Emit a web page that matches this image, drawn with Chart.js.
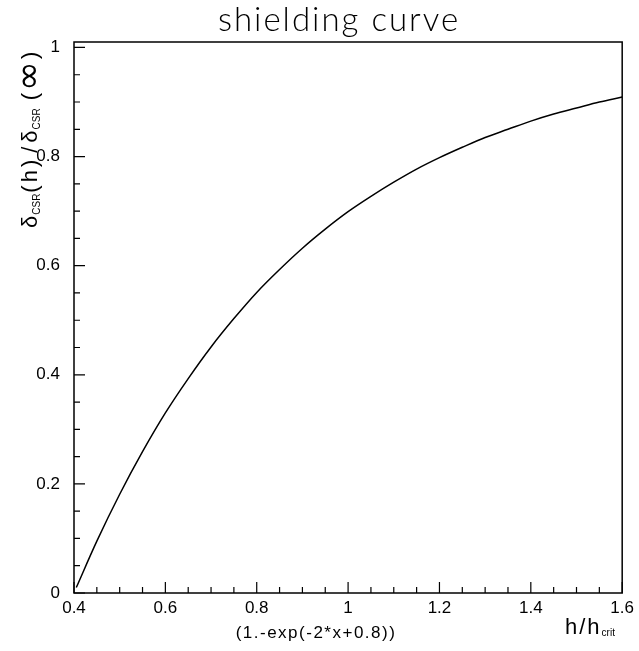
<!DOCTYPE html>
<html>
<head>
<meta charset="utf-8">
<script src="https://cdn.jsdelivr.net/npm/chart.js@4.4.0/dist/chart.umd.min.js"></script>
<style>
html,body{margin:0;padding:0;background:#fff;}
#wrap{width:639px;height:651px;position:relative;}
</style>
</head>
<body>
<div id="wrap"><canvas id="c" width="639" height="651"></canvas></div>
<script>
const xValues = [0.405, 0.45, 0.5, 0.55, 0.6, 0.65, 0.7, 0.75, 0.8, 0.85, 0.9, 0.95, 1.0, 1.05, 1.1, 1.15, 1.2, 1.25, 1.3, 1.35, 1.4, 1.45, 1.5, 1.55, 1.6];
const yValues = [0.01, 0.095, 0.181, 0.259, 0.330, 0.393, 0.451, 0.503, 0.551, 0.593, 0.632, 0.667, 0.699, 0.727, 0.753, 0.777, 0.798, 0.817, 0.835, 0.850, 0.865, 0.878, 0.889, 0.900, 0.909];
const xTicks = [0.4, 0.6, 0.8, 1.0, 1.2, 1.4, 1.6];
const yTicks = [0, 0.2, 0.4, 0.6, 0.8, 1.0];
const titleText = 'shielding curve';
const xLabelText = '(1.-exp(-2*x+0.8))';

const points = xValues.map((x, i) => ({x: x, y: yValues[i]}));
const FONT = '"Liberation Sans", Arial, sans-serif';

const decor = {
  id: 'decor',
  afterDraw(chart) {
    const ctx = chart.ctx;
    const a = chart.chartArea;
    const xs = chart.scales.x, ys = chart.scales.y;
    ctx.save();
    // frame
    ctx.strokeStyle = '#000';
    ctx.lineWidth = 1.5;
    ctx.strokeRect(a.left, a.top, a.right - a.left, a.bottom - a.top);
    // inward ticks
    ctx.lineWidth = 1.2;
    ctx.beginPath();
    for (let i = 0; i <= 24; i++) {
      const v = 0.4 + i * 0.05;
      const px = xs.getPixelForValue(v);
      const len = (i % 4 === 0) ? 11 : 6;
      ctx.moveTo(px, a.bottom); ctx.lineTo(px, a.bottom - len);
    }
    for (let i = 0; i <= 20; i++) {
      const v = i * 0.05;
      const py = ys.getPixelForValue(v);
      const len = (i % 4 === 0) ? 11 : 6;
      ctx.moveTo(a.left, py); ctx.lineTo(a.left + len, py);
    }
    ctx.stroke();
    // title
    ctx.fillStyle = '#000';
    ctx.font = '300 33px Lato, "DejaVu Sans", sans-serif';
    ctx.letterSpacing = '2px';
    ctx.textAlign = 'center';
    ctx.textBaseline = 'alphabetic';
    ctx.fillText(titleText, 339, 31);
    // x labels
    ctx.font = '17px ' + FONT;
    ctx.letterSpacing = '1.5px';
    ctx.fillText(xLabelText, 316, 638);
    ctx.textAlign = 'left';
    ctx.font = '22px ' + FONT;
    ctx.letterSpacing = '2px';
    ctx.fillText('h/h', 565, 634);
    const w = ctx.measureText('h/h').width;
    ctx.font = '10px ' + FONT;
    ctx.letterSpacing = '0px';
    ctx.fillText('crit', 565 + w, 636);
    // y label rotated
    ctx.translate(37, 228);
    ctx.rotate(-Math.PI / 2);
    ctx.textAlign = 'left';
    let x = 0;
    const big = '22px ' + FONT, small = '10px ' + FONT;
    const parts = [['δ', big, 0, 1], ['CSR', small, 3, 1], ['(h)', big, 0, 4], ['/', big, 0, 4], ['δ', big, 0, 1], ['CSR', small, 3, 8], ['(', big, 0, 2], ['∞', '36px "DejaVu Sans", sans-serif', 3, 2], [')', big, 0, 0]];
    for (const [t, f, dy, gap] of parts) {
      ctx.font = f;
      ctx.letterSpacing = (f === big && t.length > 1) ? '3px' : '0px';
      ctx.fillText(t, x, dy);
      x += ctx.measureText(t).width + gap;
    }
    ctx.restore();
  }
};

new Chart(document.getElementById('c'), {
  type: 'scatter',
  data: {
    datasets: [{
      data: points,
      showLine: true,
      borderColor: '#000',
      borderWidth: 1.5,
      pointRadius: 0,
      cubicInterpolationMode: 'monotone',
      fill: false
    }]
  },
  options: {
    responsive: false,
    animation: false,
    devicePixelRatio: 1,
    layout: { padding: { top: 42, right: 11, left: 0, bottom: 0 } },
    plugins: { legend: { display: false }, title: { display: false }, tooltip: { enabled: false } },
    scales: {
      x: {
        type: 'linear', min: 0.4, max: 1.6,
        afterBuildTicks(s) { s.ticks = xTicks.map(v => ({value: v})); },
        afterFit(s) { s.height = 58; },
        grid: { display: false, drawTicks: false },
        border: { display: false },
        ticks: { color: '#000', font: { family: FONT, size: 17 }, padding: 5, maxRotation: 0,
          callback: v => String(+v.toFixed(2)) }
      },
      y: {
        type: 'linear', min: 0, max: 1.01,
        afterBuildTicks(s) { s.ticks = yTicks.map(v => ({value: v})); },
        afterFit(s) { s.width = 74; },
        grid: { display: false, drawTicks: false },
        border: { display: false },
        ticks: { color: '#000', font: { family: FONT, size: 17 }, padding: 14,
          callback: v => String(+v.toFixed(2)) }
      }
    }
  },
  plugins: [decor]
});
</script>
</body>
</html>
